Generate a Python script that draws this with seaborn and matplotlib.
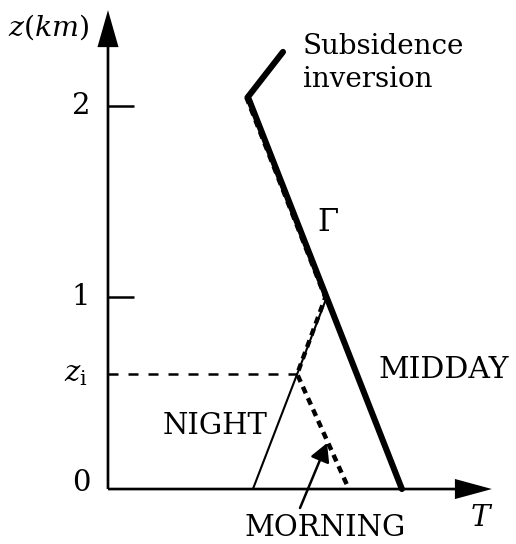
import matplotlib
matplotlib.use("Agg")
import matplotlib.pyplot as plt
import pandas as pd
import seaborn as sns

# Temperature profiles: T in arbitrary units, height z in km
midday_T = [1.535, 0.731, 0.914]
midday_z = [0.0, 2.047, 2.282]
night_T = [0.757, 1.142]
night_z = [0.0, 1.0]
morning_T = [0.722, 1.135, 0.988, 1.258]
morning_z = [2.047, 1.0, 0.6, 0.0]
z_i = 0.6
z_i_T = 0.988
z_ticks = [0, 1, 2]
z_tick_labels = ["0", "1", "2"]

sns.set_theme(style="white")
plt.rcParams["font.family"] = ["DejaVu Serif"]
plt.rcParams["mathtext.fontset"] = "dejavuserif"
plt.rcParams["text.color"] = "black"

fig = plt.figure(figsize=(5.16, 5.44), dpi=100)
ax = fig.add_axes([0, 0, 1, 1])
ax.axis("off")

df_m = pd.DataFrame({"T": morning_T, "z": morning_z})
sns.lineplot(data=df_m, x="T", y="z", sort=False, estimator=None, ax=ax,
             color="black", lw=3.2, ls=(0, (1.6, 1.2)))
df_n = pd.DataFrame({"T": night_T, "z": night_z})
sns.lineplot(data=df_n, x="T", y="z", sort=False, estimator=None, ax=ax,
             color="black", lw=1.5)
df_d = pd.DataFrame({"T": midday_T, "z": midday_z})
sns.lineplot(data=df_d, x="T", y="z", sort=False, estimator=None, ax=ax,
             color="black", lw=4.4, solid_joinstyle="miter")

# axes with arrow heads
ax.arrow(0, 0, 2.005, 0, width=0.014, head_width=0.105, head_length=0.193,
         length_includes_head=True, color="black", lw=0)
ax.arrow(0, 0, 0, 2.50, width=0.014, head_width=0.11, head_length=0.193,
         length_includes_head=True, color="black", lw=0)
ax.hlines(z_ticks[1:], 0, 0.136, color="black", lw=1.8)
for z, lab in zip(z_ticks, z_tick_labels):
    ax.text(-0.14, z + (0.03 if z == 0 else 0), lab, ha="center", va="center",
            fontsize=21)

# inversion height
ax.plot([0, z_i_T], [z_i, z_i], color="black", lw=1.8, ls=(0, (4, 4)))
ax.text(-0.17, z_i, r"$z_\mathrm{i}$", ha="center", va="center", fontsize=21)

ax.annotate("", xy=(1.144, 0.240), xytext=(1.003, -0.099),
            arrowprops=dict(arrowstyle="-|>,head_length=0.55,head_width=0.3",
                            mutation_scale=20, lw=1.8, color="black",
                            shrinkA=0, shrinkB=0))

ax.text(-0.308, 2.412, r"$z(km)$", ha="center", va="center", fontsize=20.5)
ax.text(1.95, -0.15, r"$T$", ha="center", va="center", fontsize=21)
ax.text(1.017, 2.225, "Subsidence\ninversion", ha="left", va="center",
        fontsize=20, linespacing=1.3)
ax.text(1.149, 1.394, "Γ", ha="center", va="center", fontsize=22)
ax.text(1.754, 0.622, "MIDDAY", ha="center", va="center", fontsize=21.5)
ax.text(0.56, 0.329, "NIGHT", ha="center", va="center", fontsize=21)
ax.text(1.133, -0.204, "MORNING", ha="center", va="center", fontsize=21)

ax.set_xlim(-0.564, 2.131)
ax.set_ylim(-0.287, 2.553)

fig.savefig("out.png", dpi=100)
